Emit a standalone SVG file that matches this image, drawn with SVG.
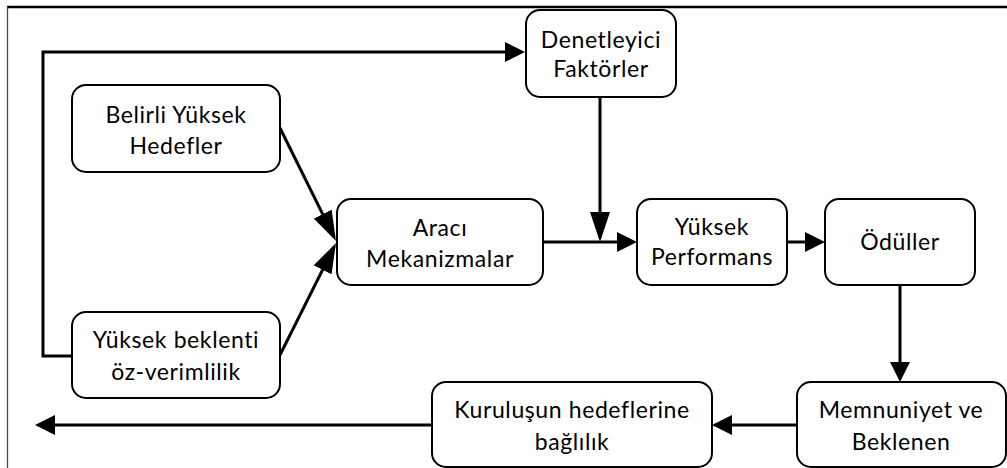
<svg xmlns="http://www.w3.org/2000/svg" width="1007" height="468" viewBox="0 0 1007 468">
  <style>
    .box { fill: #ffffff; stroke: #000000; stroke-width: 2; }
    .lbl { font-family: Lato, "Liberation Sans", sans-serif; font-size: 23px; letter-spacing: 0.6px; font-variant-ligatures: none; fill: #000000; text-anchor: middle; }
    .conn { fill: none; stroke: #000000; stroke-width: 3; }
  </style>
  <defs>
    <marker id="ah" viewBox="0 0 20 20" markerWidth="20" markerHeight="20" markerUnits="userSpaceOnUse" refX="16" refY="10" orient="auto">
      <path d="M0,0 L20,10 L0,20 Z" fill="#000000"/>
    </marker>
    <marker id="ahl" viewBox="0 0 30 20" markerWidth="30" markerHeight="20" markerUnits="userSpaceOnUse" refX="26" refY="10" orient="auto">
      <path d="M0,0 L30,10 L0,20 Z" fill="#000000"/>
    </marker>
  </defs>

  <!-- outer frame -->
  <g id="frame">
    <line x1="7" y1="7" x2="1007" y2="7" stroke="#000000" stroke-width="2.5"/>
    <line x1="7.5" y1="7" x2="7.5" y2="468" stroke="#444444" stroke-width="1.3"/>
  </g>

  <!-- connectors -->
  <g id="connectors">
    <path class="conn" d="M72,356 H43 V52 H521" marker-end="url(#ah)"/>
    <path class="conn" d="M280,128 L334.2,237.4" marker-end="url(#ahl)"/>
    <path class="conn" d="M280,355 L334.2,246.6" marker-end="url(#ahl)"/>
    <path class="conn" d="M600,97 V238" marker-end="url(#ahl)"/>
    <path class="conn" d="M543,242 H633" marker-end="url(#ah)"/>
    <path class="conn" d="M787,242 H821" marker-end="url(#ah)"/>
    <path class="conn" d="M900,285 V378" marker-end="url(#ah)"/>
    <path class="conn" d="M797,425 H716" marker-end="url(#ah)"/>
    <path class="conn" d="M432,425 H39" marker-end="url(#ah)"/>
  </g>

  <g id="belirli-yuksek-hedefler">
    <rect class="box" x="72" y="85" width="208" height="87" rx="14"/>
    <text class="lbl" x="176" y="123">Belirli Yüksek</text>
    <text class="lbl" x="176" y="154">Hedefler</text>
  </g>

  <g id="yuksek-beklenti">
    <rect class="box" x="72" y="312" width="208" height="86" rx="14"/>
    <text class="lbl" x="176" y="348">Yüksek beklenti</text>
    <text class="lbl" x="176" y="380">öz-verimlilik</text>
  </g>

  <g id="denetleyici-faktorler">
    <rect class="box" x="526" y="10" width="150" height="87" rx="14"/>
    <text class="lbl" x="601" y="48">Denetleyici</text>
    <text class="lbl" x="601" y="77">Faktörler</text>
  </g>

  <g id="araci-mekanizmalar">
    <rect class="box" x="337" y="199" width="206" height="86" rx="14"/>
    <text class="lbl" x="440" y="236">Aracı</text>
    <text class="lbl" x="440" y="267">Mekanizmalar</text>
  </g>

  <g id="yuksek-performans">
    <rect class="box" x="637" y="199" width="150" height="86" rx="14"/>
    <text class="lbl" x="712" y="235">Yüksek</text>
    <text class="lbl" x="712" y="265">Performans</text>
  </g>

  <g id="oduller">
    <rect class="box" x="825" y="199" width="150" height="86" rx="14"/>
    <text class="lbl" x="900" y="250">Ödüller</text>
  </g>

  <g id="memnuniyet-beklenen">
    <rect class="box" x="797" y="382" width="209" height="85" rx="14"/>
    <text class="lbl" x="901" y="418">Memnuniyet ve</text>
    <text class="lbl" x="901" y="450">Beklenen</text>
  </g>

  <g id="kurulusun-hedeflerine-baglilik">
    <rect class="box" x="432" y="382" width="280" height="85" rx="14"/>
    <text class="lbl" x="572" y="418">Kuruluşun hedeflerine</text>
    <text class="lbl" x="572" y="450">bağlılık</text>
  </g>
</svg>
